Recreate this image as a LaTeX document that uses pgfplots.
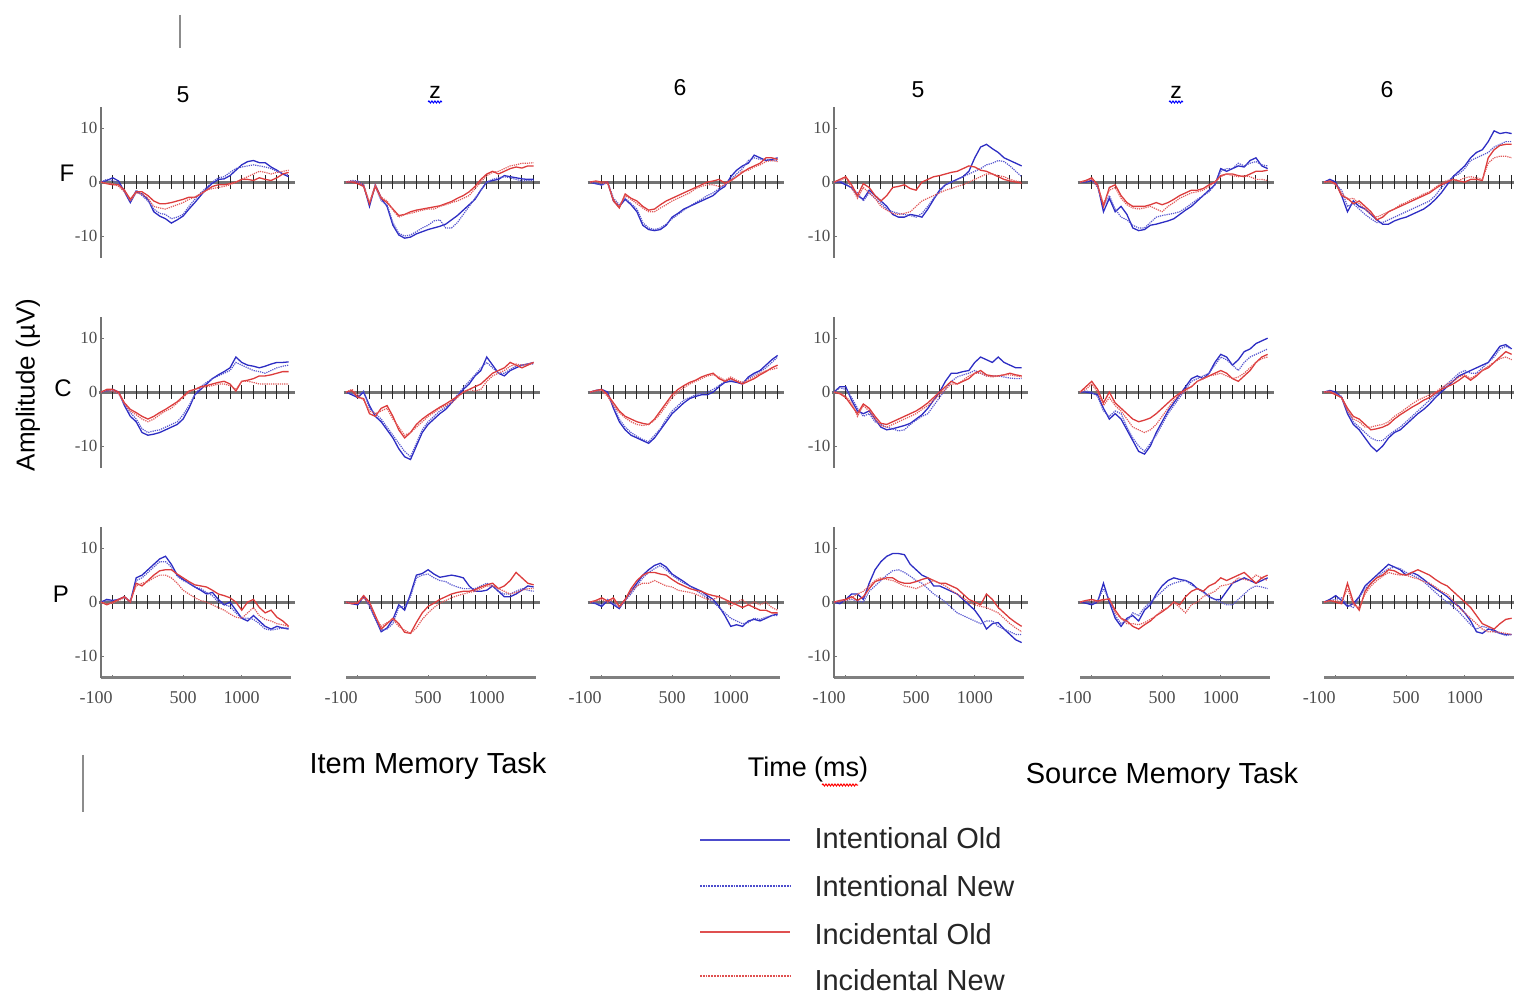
\documentclass[border=0pt]{standalone}
\usepackage{pgfplots}
\pgfplotsset{compat=1.18}
\usepackage{pgfplotstable}
\usepackage{fontspec}
\setmainfont{Liberation Sans}
\newfontfamily\tickfont{Liberation Serif}
\usetikzlibrary{decorations.pathmorphing}

\definecolor{eegblue}{RGB}{45,45,195}
\definecolor{eegred}{RGB}{220,60,60}

\newcommand\mktab[2]{%
 \pgfplotstableread[row sep=\\]{#2}\tmpraw
 \pgfplotstabletranspose[colnames from=s,input colnames to=t]#1{\tmpraw}}

% ---------------- Row F ----------------
\mktab{\tFa}{s -200 -150 -100 -50 0 50 100 150 200 250 300 350 400 450 500 550 600 650 700 750 800 850 900 950 1000 1050 1100 1150 1200 1250 1300 1350 1400\\
IO 0 0.3 0.8 0.2 -1.8 -3.8 -1.8 -2.2 -3.2 -5.5 -6.3 -6.8 -7.6 -7.0 -6.3 -5.0 -3.8 -2.5 -1.2 -0.2 0.5 0.6 1.2 2.2 3.2 3.8 4.0 3.6 3.6 2.8 2.2 1.5 1.0\\
IN 0 0.5 0.3 -0.3 -1.5 -3.5 -1.5 -2.5 -3.5 -5.0 -5.8 -6.0 -6.8 -6.5 -6.0 -4.5 -3.2 -2.0 -1.0 0 0.8 1.0 1.8 2.5 2.8 3.0 3.2 3.0 2.8 2.5 2.0 1.6 1.3\\
CO 0 -0.3 -0.5 -0.5 -1.5 -3.2 -1.8 -1.8 -2.5 -3.5 -4.0 -4.0 -3.8 -3.5 -3.2 -2.8 -2.8 -2.2 -1.5 -0.8 -0.5 -0.5 -0.3 0 0.5 0.5 0.3 0.8 0.5 0.3 0.8 1.5 1.8\\
CN 0 -0.2 -0.3 -0.8 -1.8 -3.5 -2.0 -2.2 -3.0 -4.5 -4.8 -5.0 -4.6 -4.2 -3.8 -3.2 -2.8 -2.2 -1.5 -1.2 -1.0 -0.8 -0.5 0 0.5 1.0 1.5 2.0 1.8 1.5 1.8 2.0 2.2\\}
\mktab{\tFb}{s -200 -150 -100 -50 0 50 100 150 200 250 300 350 400 450 500 550 600 650 700 750 800 850 900 950 1000 1050 1100 1150 1200 1250 1300 1350 1400\\
IO 0 0 0 -0.5 -4.5 -0.5 -3 -4.5 -8 -9.8 -10.4 -10.2 -9.6 -9.2 -8.8 -8.5 -8.2 -7.8 -7.0 -6.2 -5.2 -4.2 -3.2 -1.5 0 0.3 0.5 1.2 1.0 0.8 0.6 0.5 0.5\\
IN 0 0.3 0.2 -0.8 -4.0 -0.8 -3.5 -4.2 -7.5 -9.5 -10.0 -9.8 -9.2 -8.5 -8.0 -7.2 -7.0 -8.5 -8.5 -7.5 -6.0 -4.5 -3.0 -1.5 0 0.5 0.8 1.0 0.8 0.5 0.2 0.3 0.3\\
CO 0 0 -0.3 -0.8 -4.0 -0.8 -3.0 -3.8 -5.0 -6.2 -6.0 -5.5 -5.2 -5.0 -4.8 -4.6 -4.4 -4.0 -3.6 -3.0 -2.5 -1.8 -0.8 0.5 1.5 2.0 1.5 2.0 2.5 2.8 2.6 3.0 3.0\\
CN 0 0.2 0 -0.5 -3.8 -0.5 -2.8 -3.5 -5.2 -6.5 -6.0 -5.8 -5.5 -5.2 -5.0 -5.0 -4.5 -4.2 -3.8 -3.5 -3.0 -2.5 -1.2 0 1.2 1.8 2.0 2.5 3.0 3.2 3.5 3.5 3.6\\}
\mktab{\tFc}{s -200 -150 -100 -50 0 50 100 150 200 250 300 350 400 450 500 550 600 650 700 750 800 850 900 950 1000 1050 1100 1150 1200 1250 1300 1350 1400\\
IO 0 -0.3 -0.5 0 -3.5 -4.5 -3.2 -4.2 -5.5 -8.0 -8.8 -9.0 -8.8 -8.0 -6.5 -5.8 -5.0 -4.5 -4.0 -3.5 -3.0 -2.5 -1.5 -0.8 1.0 2.2 3.0 3.5 5.0 4.5 4.0 4.2 4.5\\
IN 0 -0.2 -0.6 0 -3.0 -4.2 -3.0 -4.0 -5.0 -7.5 -8.5 -8.8 -8.5 -7.8 -6.8 -6.0 -5.2 -4.5 -3.8 -3.2 -2.5 -2.0 -1.2 -0.5 0.5 1.5 2.5 4.0 4.5 4.2 4.2 4.0 4.0\\
CO 0 0.2 0 0 -3.5 -4.8 -2.2 -3.0 -3.5 -4.5 -5.2 -5.0 -4.2 -3.5 -3.0 -2.5 -2.0 -1.5 -1.0 -0.5 0 0.2 0.5 -0.2 0.3 1.0 1.8 2.5 3.0 3.5 4.5 4.5 4.2\\
CN 0 0.1 -0.2 -0.3 -3.2 -4.5 -2.5 -3.2 -4.0 -4.8 -5.5 -5.5 -4.8 -4.2 -3.5 -3.0 -2.5 -2.0 -1.2 -0.8 -0.5 -0.5 -0.8 -0.5 0.2 1.0 2.0 2.2 2.8 3.2 3.8 4.0 3.8\\}
\mktab{\tFd}{s -200 -150 -100 -50 0 50 100 150 200 250 300 350 400 450 500 550 600 650 700 750 800 850 900 950 1000 1050 1100 1150 1200 1250 1300 1350 1400\\
IO 0 0 -0.5 -1.0 -2.5 -3.2 -1.5 -2.5 -3.5 -4.5 -6.0 -6.5 -6.5 -6.0 -6.2 -6.5 -5.0 -3.2 -1.5 -0.5 0 0.5 1.0 2.0 4.5 6.5 7.0 6.2 5.5 4.5 4.0 3.5 3.0\\
IN 0 0.2 -0.3 -1.2 -2.0 -3.5 -2.0 -3.0 -4.0 -5.0 -5.5 -5.8 -6.0 -6.2 -6.5 -5.8 -4.5 -3.0 -1.8 -0.5 0 0.5 1.0 1.5 2.0 2.5 3.2 3.5 4.0 3.8 3.0 2.0 1.0\\
CO 0 0.5 1.0 -0.5 -2.5 -0.3 -1.0 -2.5 -3.5 -2.5 -1.0 -0.8 -0.5 -1.2 -1.5 0 0.5 1.0 1.2 1.5 1.8 2.0 2.5 3.0 2.8 2.2 2.0 1.5 1.0 0.5 0.2 0 -0.2\\
CN 0 0.3 0.8 -1.0 -3.0 -1.0 -2.0 -3.0 -4.5 -5.2 -5.8 -6.0 -5.8 -5.5 -4.5 -3.5 -3.0 -2.5 -2.0 -1.5 -1.2 -0.8 -0.5 0 0.5 1.0 1.5 1.5 1.2 1.0 0.5 0.2 0\\}
\mktab{\tFe}{s -200 -150 -100 -50 0 50 100 150 200 250 300 350 400 450 500 550 600 650 700 750 800 850 900 950 1000 1050 1100 1150 1200 1250 1300 1350 1400\\
IO 0 0 0.3 -0.5 -5.5 -3.0 -5.5 -4.5 -6.0 -8.5 -9.0 -8.8 -8.0 -7.8 -7.5 -7.2 -6.8 -6.0 -5.2 -4.5 -3.5 -2.5 -1.5 -0.5 2.5 2.0 2.5 3.0 2.8 4.0 4.5 3.0 2.5\\
IN 0 0.2 0.5 -1.0 -4.5 -2.5 -5.0 -6.5 -7.0 -8.0 -8.5 -8.5 -7.5 -6.5 -6.2 -6.0 -5.8 -5.5 -4.8 -4.0 -3.2 -2.5 -1.8 -0.5 2.0 2.5 2.5 3.5 3.0 3.5 3.8 3.2 3.0\\
CO 0 0.3 0.8 -0.5 -4.5 -1.0 -0.5 -2.5 -3.8 -4.5 -4.5 -4.5 -4.2 -3.8 -4.2 -3.8 -3.2 -2.5 -2.0 -1.5 -1.5 -1.2 -0.5 0 1.2 1.5 1.5 1.2 1.0 1.5 2.0 2.0 2.2\\
CN 0 0.2 0.5 -0.8 -4.0 -1.5 -1.0 -3.0 -4.2 -4.8 -5.0 -4.8 -4.5 -5.0 -5.5 -4.5 -3.8 -3.0 -2.5 -2.0 -1.8 -1.5 -0.8 0 1.0 1.5 1.2 1.0 1.2 1.0 0.5 0.5 0.3\\}
\mktab{\tFf}{s -200 -150 -100 -50 0 50 100 150 200 250 300 350 400 450 500 550 600 650 700 750 800 850 900 950 1000 1050 1100 1150 1200 1250 1300 1350 1400\\
IO 0 0.5 0 -2.5 -5.5 -3.5 -4.5 -5.0 -6.0 -7.0 -7.8 -7.8 -7.2 -6.8 -6.5 -6.0 -5.5 -5.0 -4.2 -3.2 -2.0 -0.5 1.0 2.0 3.0 4.5 5.5 6.0 7.5 9.5 9.0 9.2 9.0\\
IN 0 0.3 -0.5 -1.5 -4.5 -4.0 -5.0 -6.0 -6.8 -7.5 -7.5 -7.0 -6.5 -6.0 -5.5 -5.0 -4.5 -4.0 -3.5 -2.5 -1.0 0 1.0 1.5 2.5 4.0 4.5 5.0 5.5 6.5 7.0 7.5 7.5\\
CO 0 0.2 -0.3 -2.5 -3.0 -4.0 -3.5 -4.5 -5.5 -7.0 -6.5 -5.5 -5.0 -4.5 -4.0 -3.5 -3.0 -2.5 -2.0 -1.2 -0.5 0 0.5 0.2 0 0.5 0.5 0.3 4.5 6.0 6.8 7.0 7.0\\
CN 0 0 -0.5 -2.0 -3.2 -3.0 -4.0 -5.0 -6.0 -6.5 -6.0 -5.5 -5.0 -4.2 -3.8 -3.2 -2.8 -2.2 -1.8 -1.0 -0.2 0.3 0.5 0.3 0.8 1.0 0.8 0.5 3.5 4.5 4.8 4.8 4.5\\}

% ---------------- Row C ----------------
\mktab{\tCa}{s -200 -150 -100 -50 0 50 100 150 200 250 300 350 400 450 500 550 600 650 700 750 800 850 900 950 1000 1050 1100 1150 1200 1250 1300 1350 1400\\
IO 0 0.3 0.5 0 -2.5 -4.5 -5.5 -7.5 -8.0 -7.8 -7.5 -7.0 -6.5 -6.0 -5.0 -3.0 -0.5 0.5 1.5 2.5 3.2 3.8 4.5 6.5 5.5 5.0 4.8 4.5 4.8 5.2 5.5 5.5 5.6\\
IN 0 0.2 0.3 -0.3 -2.0 -3.8 -5.0 -6.8 -7.5 -7.2 -7.0 -6.5 -6.0 -5.5 -4.2 -2.5 -0.5 1.0 1.8 2.5 3.0 3.5 4.0 5.5 5.0 4.5 4.0 3.8 3.5 4.0 4.5 4.8 5.0\\
CO 0 0.5 0.5 0 -2.0 -3.2 -3.8 -4.5 -5.0 -4.5 -3.8 -3.2 -2.5 -1.8 -0.8 0.2 0.5 1.0 1.2 1.5 1.8 2.0 1.5 0.2 2.0 2.2 2.5 3.0 3.0 3.2 3.5 3.8 3.8\\
CN 0 0.3 0.2 -0.3 -2.2 -3.5 -4.2 -5.0 -5.5 -5.0 -4.2 -3.5 -3.0 -2.0 -1.0 0 0.5 0.8 1.0 1.2 1.5 1.5 1.2 0.5 2.0 2.0 1.8 1.5 1.5 1.5 1.5 1.5 1.5\\}
\mktab{\tCb}{s -200 -150 -100 -50 0 50 100 150 200 250 300 350 400 450 500 550 600 650 700 750 800 850 900 950 1000 1050 1100 1150 1200 1250 1300 1350 1400\\
IO 0 -0.5 -1.0 0 -2.5 -4.5 -5.5 -7.0 -8.5 -10.5 -12.0 -12.5 -10.0 -7.5 -6.0 -5.0 -4.0 -3.2 -2.0 -0.8 0.5 1.5 3.0 4.0 6.5 5.0 3.5 3.0 4.0 4.5 5.0 5.2 5.5\\
IN 0 -0.3 -0.8 0.2 -3.0 -4.0 -5.0 -6.5 -8.0 -9.5 -11.0 -12.0 -9.5 -7.0 -5.5 -4.5 -3.5 -2.8 -1.8 -0.5 0.8 2.0 3.2 4.5 5.5 4.5 3.5 3.5 4.2 4.8 5.0 5.2 5.2\\
CO 0 0.3 -1.0 -1.2 -4.0 -4.5 -3.0 -2.5 -4.5 -7.0 -8.5 -7.5 -6.0 -5.0 -4.2 -3.5 -2.8 -2.2 -1.5 -0.8 0 0.5 1.0 1.5 2.5 3.5 4.0 4.5 5.5 5.0 4.5 5.0 5.5\\
CN 0 0.5 -0.5 -1.5 -3.5 -4.0 -3.5 -3.0 -5.0 -6.5 -8.0 -7.5 -6.5 -5.5 -4.5 -3.8 -3.0 -2.5 -2.0 -1.0 0 0.5 0.2 0.5 2.0 3.0 3.5 4.0 4.8 5.2 5.0 5.2 5.5\\}
\mktab{\tCc}{s -200 -150 -100 -50 0 50 100 150 200 250 300 350 400 450 500 550 600 650 700 750 800 850 900 950 1000 1050 1100 1150 1200 1250 1300 1350 1400\\
IO 0 0.3 0.5 0 -3.0 -5.5 -7.0 -8.0 -8.5 -9.0 -9.5 -8.5 -7.0 -5.5 -4.0 -3.0 -2.0 -1.2 -0.8 -0.5 -0.5 0 1.0 1.8 2.0 1.8 1.5 2.8 3.5 4.0 5.0 6.0 6.8\\
IN 0 0.2 0.3 -0.3 -2.5 -5.0 -6.5 -7.5 -8.2 -8.8 -9.2 -8.0 -6.8 -5.0 -3.5 -2.5 -1.5 -1.0 -0.5 -0.2 0 0.5 1.2 2.0 2.2 2.0 1.8 2.5 3.2 3.8 4.5 5.5 6.5\\
CO 0 0.3 0.5 -0.5 -2.0 -3.5 -4.5 -5.0 -5.5 -5.8 -6.0 -5.0 -3.5 -2.0 -0.5 0.5 1.2 1.8 2.2 2.8 3.2 3.5 2.5 2.0 2.5 2.0 1.5 2.0 2.5 3.2 3.8 4.5 5.0\\
CN 0 0.2 0.3 -0.8 -2.5 -3.8 -4.8 -5.5 -6.0 -6.2 -6.0 -5.2 -4.0 -2.5 -1.0 0 0.8 1.5 2.0 2.5 3.0 3.2 2.8 2.2 2.8 2.2 1.8 2.2 2.8 3.5 4.0 4.2 4.5\\}
\mktab{\tCd}{s -200 -150 -100 -50 0 50 100 150 200 250 300 350 400 450 500 550 600 650 700 750 800 850 900 950 1000 1050 1100 1150 1200 1250 1300 1350 1400\\
IO 0 1.0 1.0 -1.5 -3.5 -4.0 -3.5 -5.0 -6.5 -7.0 -6.8 -6.5 -6.2 -5.8 -5.0 -4.2 -3.0 -1.5 0 2.0 3.5 3.5 3.8 4.0 5.5 6.5 6.0 5.5 6.5 5.5 5.0 4.5 4.5\\
IN 0 0.8 0.5 -1.0 -3.0 -4.5 -4.0 -5.5 -6.0 -6.5 -6.8 -7.2 -7.0 -6.0 -5.2 -4.5 -4.0 -2.5 -1.0 0.5 2.0 2.8 3.2 3.5 4.0 3.5 3.0 3.0 3.0 2.8 2.6 2.5 2.5\\
CO 0 -0.3 -1.0 -2.5 -4.0 -2.2 -3.0 -4.5 -5.8 -6.0 -5.5 -5.0 -4.5 -4.0 -3.5 -2.8 -2.0 -1.0 0 1.0 2.0 1.5 2.0 2.5 3.5 4.0 3.2 3.0 3.0 3.2 3.5 3.2 3.0\\
CN 0 -0.2 -0.8 -2.0 -4.5 -2.5 -3.5 -5.0 -6.2 -6.5 -6.0 -5.5 -5.0 -4.5 -4.0 -3.2 -2.5 -1.5 -0.5 0.5 1.5 1.5 2.2 3.0 3.5 3.5 3.0 2.8 3.0 3.2 3.2 3.0 2.8\\}
\mktab{\tCe}{s -200 -150 -100 -50 0 50 100 150 200 250 300 350 400 450 500 550 600 650 700 750 800 850 900 950 1000 1050 1100 1150 1200 1250 1300 1350 1400\\
IO 0 0 -0.2 -0.5 -3.0 -5.0 -4.0 -5.0 -7.0 -9.0 -11.0 -11.5 -10.0 -7.5 -5.5 -3.5 -2.0 -0.5 1.0 2.5 3.0 2.5 3.5 5.5 7.0 6.5 5.0 6.0 7.5 8.0 9.0 9.5 10.0\\
IN 0 0.2 0 -0.8 -3.5 -4.5 -3.5 -4.0 -6.5 -8.5 -10.0 -11.0 -9.5 -8.0 -6.0 -4.0 -2.5 -1.0 0.5 2.0 2.5 3.0 3.5 5.0 6.5 6.0 5.0 4.0 5.5 6.5 7.0 7.5 8.0\\
CO 0 1.0 2.0 0.5 -2.0 0 -2.0 -3.0 -4.0 -5.0 -5.5 -5.2 -4.8 -4.0 -3.0 -2.0 -1.0 -0.2 0.5 1.0 2.0 2.5 3.0 3.5 4.0 3.5 2.5 2.0 3.0 4.0 5.5 6.5 7.0\\
CN 0 0.5 1.5 0 -2.5 -1.0 -2.5 -3.5 -5.0 -6.5 -7.0 -7.5 -7.0 -6.0 -4.5 -3.0 -1.5 -0.5 0.2 1.0 2.0 2.5 3.0 3.2 3.5 3.0 2.5 2.8 3.5 4.5 5.5 6.2 6.5\\}
\mktab{\tCf}{s -200 -150 -100 -50 0 50 100 150 200 250 300 350 400 450 500 550 600 650 700 750 800 850 900 950 1000 1050 1100 1150 1200 1250 1300 1350 1400\\
IO 0 0.3 0 -1.0 -4.0 -6.0 -7.0 -8.5 -10.0 -11.0 -10.0 -8.5 -7.5 -7.0 -6.0 -5.0 -4.0 -3.2 -2.2 -1.0 0 1.0 2.0 3.0 3.5 4.0 4.5 5.0 5.5 7.0 8.5 8.8 8.0\\
IN 0 0.2 -0.3 -0.8 -3.5 -5.5 -6.5 -7.5 -8.5 -9.0 -9.0 -8.0 -7.2 -6.5 -5.5 -4.5 -3.5 -2.5 -1.5 -0.5 0.5 1.5 2.5 3.5 4.0 3.5 3.5 4.5 5.5 6.5 8.0 8.5 8.0\\
CO 0 0 -0.5 -1.0 -3.0 -4.5 -5.0 -6.0 -7.0 -6.8 -6.5 -6.0 -5.0 -4.2 -3.5 -2.8 -2.2 -1.5 -1.0 -0.2 0.5 1.0 1.5 2.2 3.0 2.2 3.0 4.0 4.5 5.5 6.5 7.5 7.0\\
CN 0 0.2 -0.3 -1.2 -3.5 -5.0 -5.5 -6.5 -6.5 -6.2 -6.0 -5.5 -4.5 -3.8 -3.0 -2.2 -1.5 -1.0 -0.5 0 0.8 1.5 2.0 2.8 3.2 2.5 3.2 4.0 4.8 5.5 6.2 6.5 6.0\\}

% ---------------- Row P ----------------
\mktab{\tPa}{s -200 -150 -100 -50 0 50 100 150 200 250 300 350 400 450 500 550 600 650 700 750 800 850 900 950 1000 1050 1100 1150 1200 1250 1300 1350 1400\\
IO 0 0.5 0.3 0.5 1.0 0 4.5 5.0 6.0 7.0 8.0 8.5 7.0 5.0 4.2 3.5 2.8 2.2 1.5 1.8 0.5 -0.5 0 -1.5 -3.0 -3.5 -2.5 -3.5 -4.5 -5.0 -4.5 -4.8 -5.0\\
IN 0 0.3 0.2 0.5 0.8 0.2 4.0 4.5 5.5 6.5 7.5 7.5 6.5 4.8 4.0 3.5 2.8 2.5 1.8 1.2 0 -0.5 -0.8 -2.0 -3.0 -3.0 -3.2 -4.0 -5.0 -5.2 -5.0 -4.8 -4.8\\
CO 0 -0.5 0 0.5 1.0 0 3.5 3.0 4.0 5.0 5.8 6.0 6.0 5.2 4.5 3.8 3.2 3.0 2.8 2.2 1.5 1.2 0.8 0 -1.5 0 0.5 -1.0 -2.0 -1.5 -2.8 -3.5 -4.5\\
CN 0 -0.3 -0.2 0.3 0.8 0.2 3.0 3.5 3.8 4.5 5.0 5.0 4.5 3.5 2.2 1.5 0.8 0.3 0 -0.5 -1.0 -1.5 -2.2 -2.8 -3.0 -2.0 -1.0 -2.5 -3.2 -3.5 -4.0 -4.2 -4.5\\}
\mktab{\tPb}{s -200 -150 -100 -50 0 50 100 150 200 250 300 350 400 450 500 550 600 650 700 750 800 850 900 950 1000 1050 1100 1150 1200 1250 1300 1350 1400\\
IO 0 -0.3 -0.5 1.0 -0.5 -3.0 -5.5 -4.8 -3.2 -0.5 -1.5 1.5 5.0 5.3 6.0 5.2 4.6 4.8 5.0 4.8 4.5 3.0 2.0 2.0 2.2 3.0 2.0 1.0 1.0 1.5 2.2 3.0 2.8\\
IN 0 -0.2 -0.3 1.2 -0.8 -3.2 -5.2 -5.0 -4.0 -1.0 -0.8 1.0 4.5 5.0 5.2 4.5 4.0 3.8 3.2 2.8 2.5 2.5 2.5 3.0 3.5 3.0 2.0 1.5 1.5 2.0 2.5 2.2 2.0\\
CO 0 -0.3 -0.2 1.2 0 -2.5 -5.0 -4.0 -3.0 -4.0 -5.6 -5.8 -3.8 -2.0 -0.8 -0.2 0.5 1.0 1.5 1.8 2.0 2.0 2.3 2.8 3.2 3.5 2.5 3.0 4.0 5.5 4.5 3.5 3.2\\
CN 0 -0.2 0 0.8 -0.3 -2.8 -4.5 -3.8 -3.2 -4.5 -5.2 -5.8 -4.8 -3.2 -2.0 -1.0 -0.2 0.3 0.8 1.2 1.5 1.8 2.0 2.5 3.0 3.0 2.5 2.0 1.5 1.8 2.2 2.5 2.5\\}
\mktab{\tPc}{s -200 -150 -100 -50 0 50 100 150 200 250 300 350 400 450 500 550 600 650 700 750 800 850 900 950 1000 1050 1100 1150 1200 1250 1300 1350 1400\\
IO 0 -0.3 -0.8 0.3 -0.5 -1.2 0.5 2.0 3.5 5.0 6.0 6.8 7.2 6.5 5.2 4.5 3.8 3.0 2.5 2.0 1.2 0.5 -0.8 -2.5 -4.5 -4.2 -4.5 -3.5 -3.2 -3.5 -3.0 -2.5 -2.2\\
IN 0 -0.2 -0.5 0.5 -0.3 -1.0 0.3 1.5 3.0 4.5 5.5 6.2 6.8 6.0 5.0 4.2 3.5 3.0 2.2 1.5 0.8 0 -1.0 -2.0 -3.0 -3.5 -4.0 -3.8 -3.0 -3.2 -2.8 -2.5 -2.5\\
CO 0 0.3 0.8 0.2 0.8 -0.8 0.5 2.5 4.0 5.0 5.5 5.5 5.2 5.0 4.2 3.5 3.0 2.5 2.2 2.0 1.5 1.2 1.0 0.5 0 -0.5 -1.0 -0.5 -1.0 -1.5 -1.5 -2.0 -2.0\\
CN 0 0.2 0.5 0 0.5 -1.0 0.3 2.0 3.0 3.5 3.5 4.0 3.5 3.0 2.8 2.2 2.0 1.8 1.5 1.0 0.5 0.5 1.0 0.5 -0.8 0 0.5 -0.5 0 -0.5 0 -1.0 -1.5\\}
\mktab{\tPd}{s -200 -150 -100 -50 0 50 100 150 200 250 300 350 400 450 500 550 600 650 700 750 800 850 900 950 1000 1050 1100 1150 1200 1250 1300 1350 1400\\
IO 0 -0.3 0.5 1.5 1.5 0.5 3.5 6.0 7.5 8.5 9.0 9.0 8.8 7.0 6.0 5.0 4.5 3.0 3.0 2.5 2.0 1.5 0.5 -0.5 -1.5 -3.0 -5.0 -4.0 -3.8 -5.0 -6.0 -7.0 -7.5\\
IN 0 0.2 0.3 0.5 0.2 0 2.0 3.0 4.0 5.0 5.8 6.0 5.5 4.8 4.0 3.5 2.5 1.5 0.8 0 -1.0 -2.0 -2.5 -3.0 -3.5 -4.0 -3.5 -3.5 -4.5 -5.0 -5.5 -6.0 -6.0\\
CO 0 0.3 0.5 1.0 0.3 1.0 2.5 3.8 4.2 4.5 4.5 3.8 3.5 3.5 3.8 4.2 4.5 4.0 3.5 3.5 3.0 2.5 1.5 0.5 0 -0.5 1.5 0.5 -1.0 -2.0 -3.0 -3.8 -4.5\\
CN 0 0.2 0.3 0.8 1.5 2.0 3.0 4.0 4.5 4.2 4.0 3.5 3.0 2.8 2.5 3.0 3.5 4.0 3.5 3.0 2.2 1.5 0.8 0 -0.5 -0.8 -1.0 -1.5 -2.0 -3.0 -4.0 -4.8 -5.5\\}
\mktab{\tPe}{s -200 -150 -100 -50 0 50 100 150 200 250 300 350 400 450 500 550 600 650 700 750 800 850 900 950 1000 1050 1100 1150 1200 1250 1300 1350 1400\\
IO 0 -0.2 -0.5 0 3.5 0 -3.0 -4.5 -3.0 -2.5 -3.5 -1.5 -0.5 1.5 3.0 4.0 4.5 4.2 4.0 3.5 2.5 2.0 1.0 0.5 0.5 2.0 3.5 4.0 4.5 4.0 3.5 4.0 4.5\\
IN 0 0.2 -0.3 0.3 2.5 0.5 -2.5 -4.0 -3.5 -2.0 -2.5 -1.0 0 1.0 2.0 3.0 3.5 3.8 4.0 3.2 2.5 1.8 1.0 0.5 0 -0.5 -0.5 0.5 1.5 2.5 3.0 2.8 2.5\\
CO 0 0.3 0.5 0.2 0.5 0.5 -1.5 -3.0 -3.5 -4.5 -5.0 -4.2 -3.5 -2.5 -1.8 -1.0 0 -0.5 1.0 2.0 2.5 2.0 3.0 3.5 4.5 4.0 4.5 5.0 5.5 4.5 3.5 4.5 5.0\\
CN 0 0.2 0.3 0 0.3 0.8 -2.0 -3.0 -4.0 -4.0 -4.2 -3.8 -3.2 -2.5 -1.5 -1.0 0 -1.0 -2.0 -0.5 0 1.0 1.5 2.0 3.0 3.2 3.5 4.5 4.2 4.0 5.0 4.5 4.0\\}
\mktab{\tPf}{s -200 -150 -100 -50 0 50 100 150 200 250 300 350 400 450 500 550 600 650 700 750 800 850 900 950 1000 1050 1100 1150 1200 1250 1300 1350 1400\\
IO 0 0.5 1.2 0.3 -0.8 -0.3 1.0 3.0 4.0 5.0 6.0 7.0 6.5 6.0 5.0 5.5 5.0 4.2 3.3 2.5 1.8 1.0 0 -0.8 -2.0 -3.5 -5.5 -5.8 -5.0 -5.2 -5.8 -6.0 -6.0\\
IN 0 0.3 0.5 0.8 -0.5 -1.0 0.8 2.5 3.5 4.5 5.5 6.2 6.5 6.2 5.5 5.0 4.5 3.8 2.8 1.8 0.8 0 -0.8 -1.8 -3.0 -4.2 -5.0 -4.5 -4.8 -5.5 -5.8 -6.2 -6.0\\
CO 0 0.3 0 -0.3 3.5 0 -1.5 2.0 3.5 4.5 5.0 6.0 5.8 5.2 5.0 5.5 6.0 5.5 5.0 4.2 3.5 3.0 2.0 1.0 0 -1.0 -2.5 -4.0 -4.5 -5.0 -4.0 -3.2 -3.0\\
CN 0 0.2 0.3 0 2.5 -0.5 -1.0 1.5 3.0 4.0 4.8 5.5 5.2 5.0 5.0 4.6 4.3 3.8 3.5 2.8 2.0 1.5 0.3 -1.0 -2.0 -3.0 -4.0 -5.0 -5.5 -5.5 -5.6 -5.8 -6.0\\}

\pgfplotsset{
  sIO/.style={eegblue, line width=1.3pt},
  sIN/.style={eegblue!80, line width=1.2pt, densely dotted},
  sCO/.style={eegred, line width=1.3pt},
  sCN/.style={eegred!85, line width=1.2pt, densely dotted},
  panel/.style={anchor=south west, scale only axis, width=190pt, height=151pt,
    xmin=-200, xmax=1420, ymin=-14, ymax=14, clip=false,
    separate axis lines, axis x line*=bottom, axis y line*=left,
    axis line style={-},
    x axis line style={draw=none}, y axis line style={draw=none},
    xtick=\empty, ytick=\empty,
    tick style={black!55, line width=1pt},
    major tick length=3pt, minor tick length=2pt, tick align=inside},
  leftcol/.style={y axis line style={draw=black!55, line width=1.8pt},
    ytick={-10,0,10}, yticklabels={-10,0,10},
    yticklabel style={font=\tickfont\fontsize{17}{17}\selectfont, text=black!70}},
  bottomrow/.style={x axis line style={draw=black!50, line width=3pt},
    xtick={-100,500,1000}, xticklabels={\llap{-100},500,1000},
    minor xtick={0,100,...,1400},
    xticklabel style={font=\tickfont\fontsize{18}{18}\selectfont, text=black!70, yshift=-10pt}},
}

\newcommand\panel[4]{%
  \begin{axis}[panel, at={(#1pt,#2pt)}, #4]
    \draw[black!55, line width=3pt] (axis cs:-220,0) -- (axis cs:1450,0);
    \pgfplotsinvokeforeach{-100,0,...,1400}{\draw[black!85, line width=0.9pt] (axis cs:##1,0) ++(0pt,-7pt) -- ++(0pt,14pt);}
    \addplot[sIO] table[x=t,y=IO]{#3};
    \addplot[sIN] table[x=t,y=IN]{#3};
    \addplot[sCO] table[x=t,y=CO]{#3};
    \addplot[sCN] table[x=t,y=CN]{#3};
  \end{axis}}

\begin{document}
\begin{tikzpicture}
\path[use as bounding box] (0pt,0pt) rectangle (1514pt,996pt);

% row F
\panel{101}{738.4}{\tFa}{leftcol}
\panel{346}{738.4}{\tFb}{}
\panel{590}{738.4}{\tFc}{}
\panel{834}{738.4}{\tFd}{leftcol}
\panel{1080}{738.4}{\tFe}{}
\panel{1324}{738.4}{\tFf}{}
% row C
\panel{101}{528.4}{\tCa}{leftcol}
\panel{346}{528.4}{\tCb}{}
\panel{590}{528.4}{\tCc}{}
\panel{834}{528.4}{\tCd}{leftcol}
\panel{1080}{528.4}{\tCe}{}
\panel{1324}{528.4}{\tCf}{}
% row P
\panel{101}{318.4}{\tPa}{leftcol,bottomrow}
\panel{346}{318.4}{\tPb}{bottomrow}
\panel{590}{318.4}{\tPc}{bottomrow}
\panel{834}{318.4}{\tPd}{leftcol,bottomrow}
\panel{1080}{318.4}{\tPe}{bottomrow}
\panel{1324}{318.4}{\tPf}{bottomrow}

% column titles
\begin{scope}[every node/.style={font=\fontsize{23}{27}\selectfont}]
\node at (183pt,901pt) {5};
\node at (435pt,904pt) {z};
\node at (680pt,908pt) {6};
\node at (918pt,906pt) {5};
\node at (1176pt,904pt) {z};
\node at (1387pt,906pt) {6};
\end{scope}
\draw[blue, line width=1pt, decorate, decoration={snake, amplitude=1pt, segment length=3pt}] (428pt,894pt) -- (442pt,894pt);
\draw[blue, line width=1pt, decorate, decoration={snake, amplitude=1pt, segment length=3pt}] (1169pt,894pt) -- (1183pt,894pt);

% row labels
\begin{scope}[every node/.style={font=\fontsize{24}{28}\selectfont}]
\node at (67pt,823pt) {F};
\node at (63pt,608pt) {C};
\node at (61pt,402pt) {P};
\end{scope}
\node[rotate=90, font=\fontsize{26}{30}\selectfont] at (28pt,611pt) {Amplitude (µV)};

% bottom texts
\node[font=\fontsize{29}{33}\selectfont] at (428pt,230pt) {Item Memory Task};
\node[font=\fontsize{27}{31}\selectfont] at (808pt,226pt) {Time (ms)};
\draw[red, line width=1pt, decorate, decoration={snake, amplitude=1pt, segment length=3pt}] (822pt,211pt) -- (858pt,211pt);
\node[font=\fontsize{29}{33}\selectfont] at (1162pt,220pt) {Source Memory Task};

% stray gray marks
\draw[black!45, line width=1.8pt] (180pt,981pt) -- (180pt,948pt);
\draw[black!45, line width=1.8pt] (83pt,241pt) -- (83pt,184pt);

% legend
\draw[eegblue!85, line width=1.8pt] (700pt,156pt) -- (790pt,156pt);
\draw[eegblue!85, line width=1.8pt, densely dotted] (700pt,110pt) -- (790pt,110pt);
\draw[eegred!90, line width=1.8pt] (700pt,64pt) -- (790pt,64pt);
\draw[eegred!90, line width=1.8pt, densely dotted] (700pt,20pt) -- (790pt,20pt);
\begin{scope}[every node/.style={font=\fontsize{29}{33}\selectfont, anchor=west, text=black!85}]
\node at (811pt,158pt) {Intentional Old};
\node at (811pt,110pt) {Intentional New};
\node at (811pt,62pt) {Incidental Old};
\node at (811pt,16pt) {Incidental New};
\end{scope}
\end{tikzpicture}
\end{document}
